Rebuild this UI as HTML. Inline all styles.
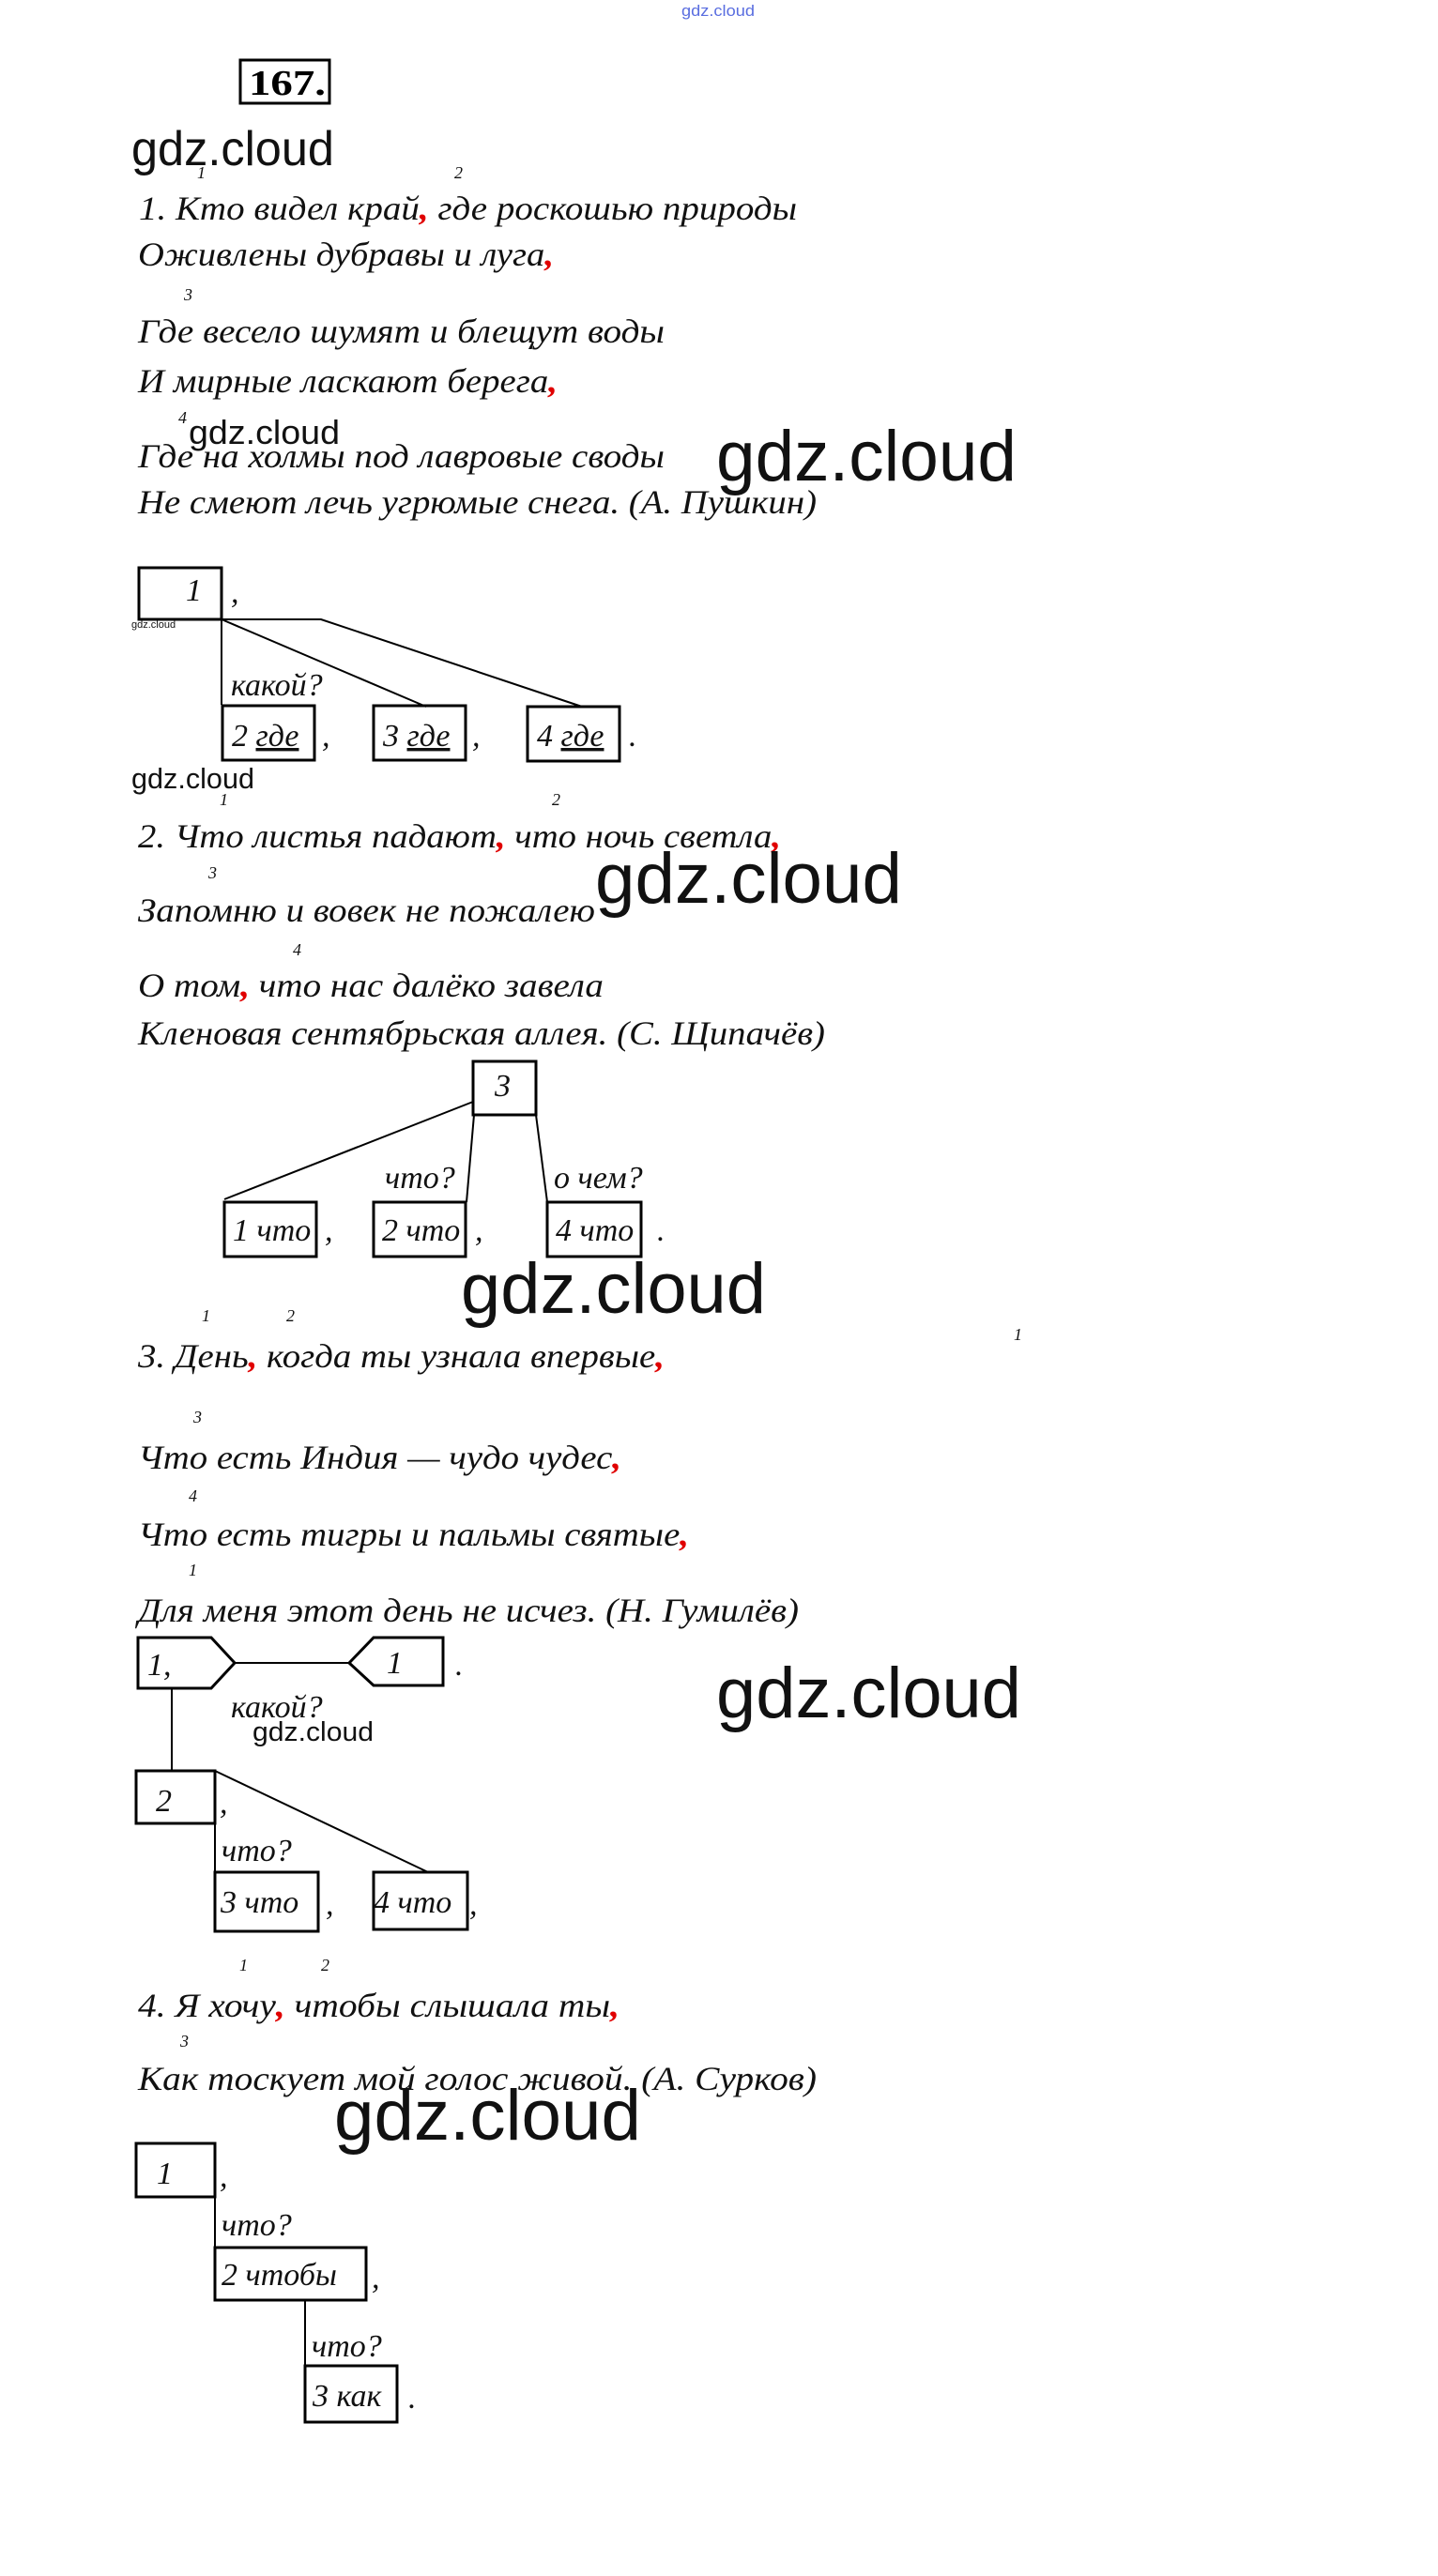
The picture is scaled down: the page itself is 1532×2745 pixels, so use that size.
<!DOCTYPE html>
<html><head><meta charset="utf-8"><style>
html,body{margin:0;padding:0;background:#fff;}
svg{display:block;}
.t{font-family:"Liberation Serif","DejaVu Serif",serif;font-style:italic;font-size:36px;fill:#111;}
.s{font-family:"Liberation Serif",serif;font-style:italic;font-size:18px;fill:#111;}
.d{font-family:"Liberation Serif",serif;font-style:italic;font-size:34px;fill:#111;}
.w{font-family:"Liberation Sans","DejaVu Sans",sans-serif;fill:#111;}
.r{fill:#e00000;font-weight:bold;}
.b{fill:none;stroke:#000;stroke-width:3;}
.l{stroke:#000;stroke-width:2;fill:none;}
</style></head><body>
<svg width="1532" height="2745" viewBox="0 0 1532 2745" xmlns="http://www.w3.org/2000/svg">
<text x="726" y="17" class="w" font-size="17" style="fill:#5a6ee0" textLength="78" lengthAdjust="spacingAndGlyphs">gdz.cloud</text>
<rect x="256" y="64" width="95" height="46" class="b"/>
<text x="265" y="101" font-family="Liberation Serif,serif" font-weight="bold" font-size="38" textLength="82" lengthAdjust="spacingAndGlyphs">167.</text>
<text x="140" y="176" class="w" font-size="52" textLength="216" lengthAdjust="spacingAndGlyphs">gdz.cloud</text>

<!-- 1 -->
<text x="210" y="190" class="s">1</text><text x="484" y="190" class="s">2</text>
<text x="148" y="234" class="t" textLength="701" lengthAdjust="spacingAndGlyphs">1. Кто видел край<tspan class="r">,</tspan> где роскошью природы</text>
<text x="147" y="283" class="t" textLength="443" lengthAdjust="spacingAndGlyphs">Оживлены дубравы и луга<tspan class="r">,</tspan></text>
<text x="196" y="320" class="s">3</text>
<text x="147" y="365" class="t" textLength="561" lengthAdjust="spacingAndGlyphs">Где весело шумят и блещут воды</text>
<text x="147" y="418" class="t" textLength="447" lengthAdjust="spacingAndGlyphs">И мирные ласкают берега<tspan class="r">,</tspan></text>
<text x="190" y="451" class="s">4</text>
<text x="201" y="473" class="w" font-size="36" textLength="161" lengthAdjust="spacingAndGlyphs">gdz.cloud</text>
<text x="147" y="498" class="t" textLength="561" lengthAdjust="spacingAndGlyphs">Где на холмы под лавровые своды</text>
<text x="763" y="512" class="w" font-size="76" textLength="320" lengthAdjust="spacingAndGlyphs">gdz.cloud</text>
<text x="147" y="547" class="t" textLength="723" lengthAdjust="spacingAndGlyphs">Не смеют лечь угрюмые снега. (А. Пушкин)</text>

<rect x="148" y="605" width="88" height="55" class="b"/>
<text x="198" y="640" class="d">1</text><text x="246" y="642" class="d">,</text>
<text x="140" y="669" class="w" font-size="11">gdz.cloud</text>
<polyline points="236,660 342,660 620,753" class="l"/>
<line x1="236" y1="660" x2="454" y2="753" class="l"/>
<line x1="236" y1="660" x2="236" y2="751" class="l"/>
<text x="246" y="741" class="d">какой?</text>
<rect x="237" y="752" width="98" height="58" class="b"/>
<rect x="398" y="752" width="98" height="58" class="b"/>
<rect x="562" y="753" width="98" height="58" class="b"/>
<text x="247" y="795" class="d">2 <tspan text-decoration="underline">где</tspan></text>
<text x="408" y="795" class="d">3 <tspan text-decoration="underline">где</tspan></text>
<text x="572" y="795" class="d">4 <tspan text-decoration="underline">где</tspan></text>
<text x="343" y="795" class="d">,</text><text x="503" y="795" class="d">,</text><text x="670" y="795" class="d">.</text>
<text x="140" y="840" class="w" font-size="31" textLength="131" lengthAdjust="spacingAndGlyphs">gdz.cloud</text>

<!-- 2 -->
<text x="234" y="858" class="s">1</text><text x="588" y="858" class="s">2</text>
<text x="147" y="903" class="t" textLength="685" lengthAdjust="spacingAndGlyphs">2. Что листья падают<tspan class="r">,</tspan> что ночь светла<tspan class="r">,</tspan></text>
<text x="222" y="936" class="s">3</text>
<text x="634" y="962" class="w" font-size="76" textLength="327" lengthAdjust="spacingAndGlyphs">gdz.cloud</text>
<text x="147" y="982" class="t" textLength="487" lengthAdjust="spacingAndGlyphs">Запомню и вовек не пожалею</text>
<text x="312" y="1018" class="s">4</text>
<text x="147" y="1062" class="t" textLength="496" lengthAdjust="spacingAndGlyphs">О том<tspan class="r">,</tspan> что нас далёко завела</text>
<text x="147" y="1113" class="t" textLength="732" lengthAdjust="spacingAndGlyphs">Кленовая сентябрьская аллея. (С. Щипачёв)</text>

<rect x="504" y="1131" width="67" height="57" class="b"/>
<text x="527" y="1168" class="d">3</text>
<line x1="504" y1="1174" x2="239" y2="1278" class="l"/>
<line x1="505" y1="1188" x2="497" y2="1281" class="l"/>
<line x1="571" y1="1188" x2="583" y2="1281" class="l"/>
<text x="410" y="1266" class="d">что?</text>
<text x="590" y="1266" class="d">о чем?</text>
<rect x="239" y="1281" width="98" height="58" class="b"/>
<rect x="398" y="1281" width="98" height="58" class="b"/>
<rect x="583" y="1281" width="100" height="58" class="b"/>
<text x="248" y="1322" class="d">1 что</text><text x="407" y="1322" class="d">2 что</text><text x="592" y="1322" class="d">4 что</text>
<text x="346" y="1322" class="d">,</text><text x="506" y="1322" class="d">,</text><text x="700" y="1322" class="d">.</text>
<text x="491" y="1399" class="w" font-size="76" textLength="325" lengthAdjust="spacingAndGlyphs">gdz.cloud</text>

<!-- 3 -->
<text x="215" y="1408" class="s">1</text><text x="305" y="1408" class="s">2</text>
<text x="147" y="1457" class="t" textLength="561" lengthAdjust="spacingAndGlyphs">3. День<tspan class="r">,</tspan> когда ты узнала впервые<tspan class="r">,</tspan></text>
<text x="1080" y="1428" class="s" font-size="10">1</text>
<text x="206" y="1516" class="s">3</text>
<text x="147" y="1565" class="t" textLength="515" lengthAdjust="spacingAndGlyphs">Что есть Индия — чудо чудес<tspan class="r">,</tspan></text>
<text x="201" y="1600" class="s">4</text>
<text x="147" y="1647" class="t" textLength="587" lengthAdjust="spacingAndGlyphs">Что есть тигры и пальмы святые<tspan class="r">,</tspan></text>
<text x="201" y="1679" class="s">1</text>
<text x="147" y="1728" class="t" textLength="704" lengthAdjust="spacingAndGlyphs">Для меня этот день не исчез. (Н. Гумилёв)</text>

<polygon points="147,1745 225,1745 250,1772 225,1799 147,1799" class="b"/>
<text x="157" y="1785" class="d">1,</text>
<line x1="250" y1="1772" x2="372" y2="1772" class="l"/>
<polygon points="372,1772 398,1745 472,1745 472,1796 398,1796" class="b"/>
<text x="412" y="1783" class="d">1</text><text x="485" y="1785" class="d">.</text>
<text x="246" y="1830" class="d">какой?</text>
<text x="269" y="1855" class="w" font-size="29" textLength="129" lengthAdjust="spacingAndGlyphs">gdz.cloud</text>
<text x="763" y="1830" class="w" font-size="76" textLength="325" lengthAdjust="spacingAndGlyphs">gdz.cloud</text>
<line x1="183" y1="1799" x2="183" y2="1887" class="l"/>
<rect x="145" y="1887" width="84" height="56" class="b"/>
<text x="166" y="1930" class="d">2</text><text x="234" y="1932" class="d">,</text>
<line x1="229" y1="1887" x2="456" y2="1995" class="l"/>
<line x1="229" y1="1943" x2="229" y2="1995" class="l"/>
<text x="236" y="1983" class="d">что?</text>
<rect x="229" y="1995" width="110" height="63" class="b"/>
<rect x="398" y="1995" width="100" height="61" class="b"/>
<text x="235" y="2038" class="d">3 что</text><text x="398" y="2038" class="d">4 что</text>
<text x="347" y="2040" class="d">,</text><text x="500" y="2040" class="d">,</text>

<!-- 4 -->
<text x="255" y="2100" class="s">1</text><text x="342" y="2100" class="s">2</text>
<text x="147" y="2149" class="t" textLength="513" lengthAdjust="spacingAndGlyphs">4. Я хочу<tspan class="r">,</tspan> чтобы слышала ты<tspan class="r">,</tspan></text>
<text x="192" y="2181" class="s">3</text>
<text x="147" y="2227" class="t" textLength="723" lengthAdjust="spacingAndGlyphs">Как тоскует мой голос живой. (А. Сурков)</text>
<text x="356" y="2280" class="w" font-size="76" textLength="327" lengthAdjust="spacingAndGlyphs">gdz.cloud</text>
<rect x="145" y="2284" width="84" height="57" class="b"/>
<text x="167" y="2327" class="d">1</text><text x="234" y="2330" class="d">,</text>
<line x1="229" y1="2341" x2="229" y2="2395" class="l"/>
<text x="236" y="2382" class="d">что?</text>
<rect x="229" y="2395" width="161" height="56" class="b"/>
<text x="236" y="2435" class="d">2 чтобы</text><text x="396" y="2438" class="d">,</text>
<line x1="325" y1="2451" x2="325" y2="2521" class="l"/>
<text x="332" y="2511" class="d">что?</text>
<rect x="325" y="2521" width="98" height="60" class="b"/>
<text x="333" y="2564" class="d">3 как</text><text x="435" y="2566" class="d">.</text>
</svg>
</body></html>
